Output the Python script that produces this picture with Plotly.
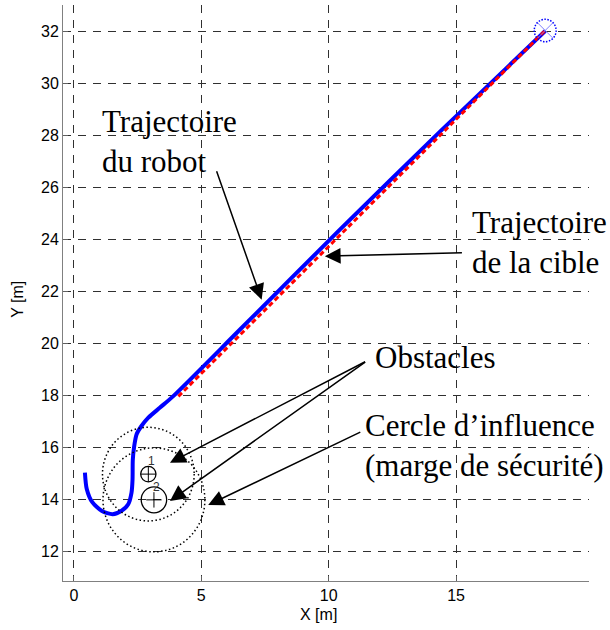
import numpy as np
import plotly.graph_objects as go

# Robot path (m)
robot_x = [0.43, 0.50, 0.72, 1.10, 1.52, 1.87, 2.13, 2.26, 2.30, 2.31, 2.36, 2.46,
           2.65, 2.92, 3.38, 3.90, 6.52, 10.44, 14.37, 18.50]
robot_y = [15.02, 14.40, 13.88, 13.54, 13.42, 13.55, 13.80, 14.25, 14.76, 15.50, 16.00,
           16.49, 16.81, 17.13, 17.52, 17.96, 20.52, 24.36, 28.13, 32.00]

# Target path (m)
target_x = [4.10, 18.50]
target_y = [17.95, 32.02]

# Obstacles: centre, radius, safety margin
obs_x = [2.92, 3.14]
obs_y = [14.96, 13.97]
obs_r = [0.3, 0.5]
margin = 1.5
obs_labels = ["1", "2"]
target_marker_r = 0.43

x_ticks = [0, 5, 10, 15]
y_ticks = list(range(12, 33, 2))

fig = go.Figure()

# robot trajectory
fig.add_trace(go.Scatter(x=robot_x, y=robot_y, mode="lines",
                         line=dict(color="#0000ff", width=4, shape="spline", smoothing=0.7),
                         hoverinfo="skip", showlegend=False))
# target trajectory
fig.add_trace(go.Scatter(x=target_x, y=target_y, mode="lines",
                         line=dict(color="#ff0000", width=3, dash="5px,3px"),
                         hoverinfo="skip", showlegend=False))

shapes = []
for cx, cy, r in zip(obs_x, obs_y, obs_r):
    # obstacle body
    shapes.append(dict(type="circle", xref="x", yref="y",
                       x0=cx - r, x1=cx + r, y0=cy - r, y1=cy + r,
                       line=dict(color="black", width=1.3)))
    # influence circle
    R = r + margin
    shapes.append(dict(type="circle", xref="x", yref="y",
                       x0=cx - R, x1=cx + R, y0=cy - R, y1=cy + R,
                       line=dict(color="black", width=1.5, dash="1.5px,2.5px")))
# final target position
tx, ty = target_x[-1], target_y[-1]
shapes.append(dict(type="circle", xref="x", yref="y",
                   x0=tx - target_marker_r, x1=tx + target_marker_r,
                   y0=ty - target_marker_r, y1=ty + target_marker_r,
                   line=dict(color="#0000ff", width=1.5, dash="1.5px,1.5px")))

# obstacle centres
fig.add_trace(go.Scatter(x=obs_x, y=obs_y, mode="markers",
                         marker=dict(symbol="cross-thin-open", size=11, color="black",
                                     line=dict(color="black", width=1)),
                         hoverinfo="skip", showlegend=False))
fig.add_trace(go.Scatter(x=[tx], y=[ty], mode="markers",
                         marker=dict(symbol="x-thin-open", size=15, color="#7f7fff",
                                     line=dict(color="#7f7fff", width=1)),
                         hoverinfo="skip", showlegend=False))

serif = "Liberation Serif, Times New Roman, serif"
sans = "Liberation Sans, Arial, sans-serif"
ann = []
# obstacle numbers, just above and right of each centre
for cx, cy, lab in zip(obs_x, obs_y, obs_labels):
    ann.append(dict(x=cx + 0.12, y=cy + 0.5, text=lab, showarrow=False,
                    xanchor="center", yanchor="middle",
                    font=dict(family=sans, size=12, color="#333")))

texts = [
    ("Trajectoire<br>du robot", 1.02, 27.74),
    ("Trajectoire<br>de la cible", 15.55, 23.88),
    ("Obstacles", 11.75, 19.45),
    ("Cercle d’influence<br>(marge de sécurité)", 11.35, 16.07),
]
for t, x, y in texts:
    ann.append(dict(x=x, y=y, text=t, showarrow=False, xanchor="left", yanchor="middle",
                    align="left", font=dict(family=serif, size=31, color="black")))

arrows = [
    (7.37, 21.67, 5.58, 26.66),
    (9.85, 23.34, 15.29, 23.47),
    (3.77, 15.40, 11.49, 19.31),
    (3.77, 13.93, 11.49, 19.31),
    (5.27, 13.77, 11.30, 16.60),
]
for x, y, ax, ay in arrows:
    ann.append(dict(x=x, y=y, ax=ax, ay=ay, xref="x", yref="y", axref="x", ayref="y",
                    text="", showarrow=True, arrowhead=2, arrowsize=2.1, arrowwidth=1.5,
                    arrowcolor="black", standoff=0))

# axis titles
ann.append(dict(x=0.485, y=-0.077, xref="paper", yref="paper", text="X [m]", showarrow=False,
                xanchor="center", yanchor="bottom", font=dict(family=sans, size=16, color="black")))
ann.append(dict(x=-0.0856, y=0.49, xref="paper", yref="paper", text="Y [m]", showarrow=False,
                xanchor="center", yanchor="middle", textangle=-90,
                font=dict(family=sans, size=16, color="black")))

axis_common = dict(showline=True, linecolor="#808080", linewidth=1, mirror=False,
                   ticks="inside", ticklen=5, tickcolor="#606060",
                   showgrid=True, gridcolor="#303030", gridwidth=1, griddash="8px,7px",
                   zeroline=False, tickfont=dict(family=sans, size=16, color="black"))

fig.update_layout(
    width=610, height=630,
    margin=dict(l=63, r=21, t=5, b=49),
    paper_bgcolor="white", plot_bgcolor="white",
    xaxis=dict(range=[-0.43, 20.22], tickvals=x_ticks, **axis_common),
    yaxis=dict(range=[10.85, 33.0], tickvals=y_ticks, **axis_common),
    shapes=shapes, annotations=ann,
)

fig.write_html("out.html")
